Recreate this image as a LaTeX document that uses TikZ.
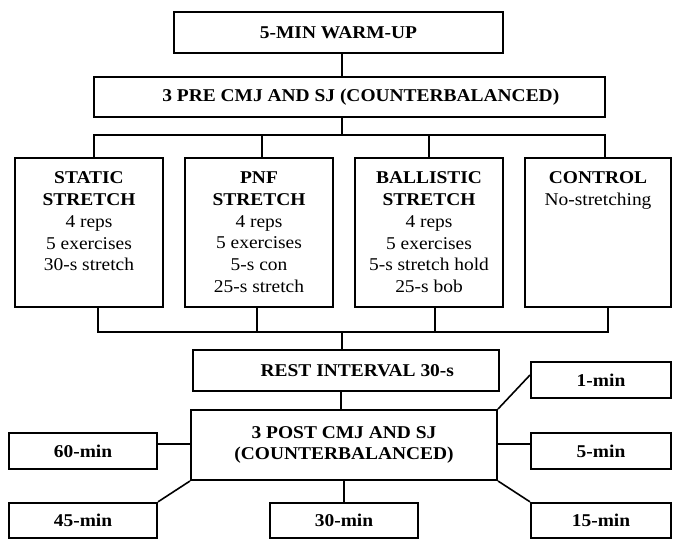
\documentclass[tikz,border=0pt]{standalone}
\usepackage{fontspec}
\setmainfont{Liberation Serif}[FakeStretch=1.08]
\newcommand\stbody[1]{\parbox[c][111.75pt][t]{110pt}{\centering\vspace*{10.5pt}#1}}
\begin{document}
\begin{tikzpicture}[x=0.75pt,y=-0.75pt,
  box/.style={draw, line width=1.5pt, inner sep=0pt, align=center,
    font=\fontsize{13.5}{16.3}\selectfont\bfseries},
  stbox/.style={draw, line width=1.5pt, inner sep=0pt,
    minimum width=111pt, minimum height=111.75pt,
    font=\fontsize{13.5}{16.3}\selectfont},
  tbox/.style={box, minimum width=110.5pt, minimum height=26.5pt},
  link/.style={line width=1.2pt},
]
\useasboundingbox (0,0) rectangle (673,542);
% top
\node[box, minimum width=246.75pt, minimum height=30.75pt] (warm) at (338.5,32.5) {5-MIN WARM-UP};
\node[box, minimum width=383.25pt, minimum height=30pt] (pre) at (349.5,97) {\hspace*{17pt}3 PRE CMJ AND SJ (COUNTERBALANCED)};
% groups
\node[stbox] (static) at (89,232.5) {\stbody{\textbf{STATIC}\\\textbf{STRETCH}\\4 reps\\5 exercises\\30-s stretch}};
\node[stbox] (pnf) at (259,232.5) {\stbody{\textbf{PNF}\\\textbf{STRETCH}\\4 reps\\5 exercises\\5-s con\\25-s stretch}};
\node[stbox] (ball) at (429,232.5) {\stbody{\textbf{BALLISTIC}\\\textbf{STRETCH}\\4 reps\\5 exercises\\5-s stretch hold\\25-s bob}};
\node[stbox, minimum width=109.5pt] (control) at (598,232.5) {\stbody{\textbf{CONTROL}\\No-stretching}};
% rest and post
\node[box, minimum width=229.5pt, minimum height=30.75pt] (rest) at (346,370.5) {\hspace*{17pt}REST INTERVAL 30-s};
\node[box, minimum width=229.5pt, minimum height=52.5pt] (post) at (344,445) {3 POST CMJ AND SJ\\(COUNTERBALANCED)};
% time boxes
\node[tbox, minimum width=105pt, minimum height=27pt] (onemin) at (601,380) {1-min};
\node[tbox, minimum width=111pt, minimum height=27pt] (sixty) at (83,451) {60-min};
\node[tbox, minimum width=105pt, minimum height=27pt] (five) at (601,451) {5-min};
\node[tbox, minimum width=111pt] (fortyfive) at (83,520.5) {45-min};
\node[tbox, minimum width=111pt] (thirty) at (344,520.5) {30-min};
\node[tbox, minimum width=105pt] (fifteen) at (601,520.5) {15-min};
% connectors top
\coordinate (bt) at (342,135);
\coordinate (bb) at (342,332);
\draw[link] (warm.south -| bt) -- (pre.north -| bt);
\draw[link] (pre.south -| bt) -- (bt);
\draw[link] ([xshift=3.75pt]static.north) |- (bt) -| ([xshift=5.25pt]control.north);
\draw[link] ([xshift=2.25pt]pnf.north) -- ([xshift=2.25pt]pnf.north |- bt);
\draw[link] (ball.north) -- (ball.north |- bt);
% connectors bottom bus
\draw[link] ([xshift=6.75pt]static.south) |- (bb) -| ([xshift=7.5pt]control.south);
\draw[link] ([xshift=-1.5pt]pnf.south) -- ([xshift=-1.5pt]pnf.south |- bb);
\draw[link] ([xshift=4.5pt]ball.south) -- ([xshift=4.5pt]ball.south |- bb);
\draw[link] (bb) -- (rest.north -| bb);
\draw[link] ([xshift=-3.75pt]rest.south) -- ([xshift=-3.75pt]rest.south |- post.north);
% post connectors
\draw[link] (post.north east) -- ([yshift=3.75pt]onemin.west);
\draw[link] ([yshift=5.25pt]sixty.east) -- ([yshift=5.25pt]sixty.east -| post.west);
\draw[link] ([yshift=5.25pt]five.west) -- ([yshift=5.25pt]five.west -| post.east);
\draw[link] (post.south west) -- (fortyfive.north east);
\draw[link] (post.south) -- (thirty.north);
\draw[link] (post.south east) -- (fifteen.north west);
\end{tikzpicture}
\end{document}
